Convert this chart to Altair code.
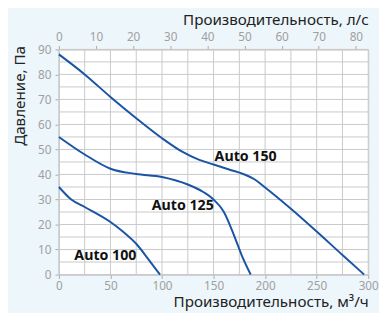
import altair as alt
import pandas as pd

# Data
q150 = [0, 25, 50, 75, 100, 120, 135, 150, 165, 180, 190, 200, 225, 250, 275, 296]
p150 = [88, 80, 71, 62.5, 54.5, 49, 46, 44, 42, 40, 38, 34.8, 26.3, 17.2, 7.8, 0]
q125 = [0, 25, 50, 75, 100, 125, 140, 150, 160, 170, 177, 186]
p125 = [55, 48, 42.3, 40.2, 39, 36, 33, 30, 25, 15.5, 8, 0]
q100 = [0, 12, 25, 50, 62, 75, 87, 98]
p100 = [35, 30, 27, 21, 17.2, 12.3, 6, 0]

label_text = ["Auto 150", "Auto 125", "Auto 100"]
label_q = [151, 90, 15]
label_p = [47, 27.5, 7.2]

x_grid = [0, 25, 50, 75, 100, 125, 150, 175, 200, 225, 250, 275, 300]
y_grid = [0, 5, 10, 15, 20, 25, 30, 35, 40, 45, 50, 55, 60, 65, 70, 75, 80, 85, 90]
x_ticks = [0, 50, 100, 150, 200, 250, 300]
y_ticks = [0, 10, 20, 30, 40, 50, 60, 70, 80, 90]
top_ticks = [0, 10, 20, 30, 40, 50, 60, 70, 80]

rows = []
for name, qs, ps in [("Auto 150", q150, p150), ("Auto 125", q125, p125), ("Auto 100", q100, p100)]:
    for i, (q, p) in enumerate(zip(qs, ps)):
        rows.append({"series": name, "q": q, "p": p, "order": i})
df = pd.DataFrame(rows)
labels = pd.DataFrame({"text": label_text, "q": label_q, "p": label_p})
top_df = pd.DataFrame({"ls": top_ticks})
xg_df = pd.DataFrame({"q": x_grid})
yg_df = pd.DataFrame({"p": y_grid})

FONT = "Noto Sans"
GRID = "#c9c9c9"
LABEL = "#a0a0a0"
LINE = "#1a55a5"
TFS = 15.5
LFS = 12

x_scale = alt.Scale(domain=[0, 300], nice=False, zero=True)
y_scale = alt.Scale(domain=[0, 90], nice=False)

x_axis = alt.Axis(
    values=x_ticks, tickColor="#aaaaaa",
    tickSize=4, labelPadding=2, labelFontSize=LFS, labelColor=LABEL, labelFont=FONT,
    domainColor=GRID, grid=False, labelFlush=False,
    title="Производительность, м³/ч", titleFont=FONT, titleFontSize=TFS,
    titleFontWeight="normal", titleColor="#222222",
    titleAnchor="end", titleAlign="right", titleX=316, titleY=33, titleBaseline="alphabetic",
)
y_axis = alt.Axis(
    values=y_ticks, tickColor="#aaaaaa",
    tickSize=4, labelPadding=4, labelFontSize=LFS, labelColor=LABEL, labelFont=FONT,
    domainColor=GRID, grid=False, labelFlush=False,
    title="Давление, Па", titleFont=FONT, titleFontSize=TFS,
    titleFontWeight="normal", titleColor="#222222",
    titleAnchor="end", titleAlign="right", titleX=-40, titleY=-4, titleBaseline="middle",
)

vgrid = alt.Chart(xg_df).mark_rule(color=GRID, strokeWidth=1).encode(
    x=alt.X("q:Q", scale=x_scale, axis=x_axis),
)
hgrid = alt.Chart(yg_df).mark_rule(color=GRID, strokeWidth=1).encode(
    y=alt.Y("p:Q", scale=y_scale, axis=y_axis),
)

lines = alt.Chart(df).mark_line(color=LINE, strokeWidth=2, interpolate="monotone").encode(
    x=alt.X("q:Q", scale=x_scale, axis=x_axis),
    y=alt.Y("p:Q", scale=y_scale, axis=y_axis),
    detail="series:N",
    order="order:Q",
)

text = alt.Chart(labels).mark_text(
    align="left", baseline="middle", font=FONT, fontSize=14.5, fontWeight="bold", color="#111111"
).encode(
    x=alt.X("q:Q", scale=x_scale, axis=x_axis),
    y=alt.Y("p:Q", scale=y_scale, axis=y_axis),
    text="text:N",
)

top = alt.Chart(top_df).mark_point(opacity=0).encode(
    x=alt.X("ls:Q", scale=alt.Scale(domain=[0, 300 / 3.6], nice=False),
            axis=alt.Axis(orient="top", values=top_ticks, grid=False, tickSize=4,
                          tickColor="#aaaaaa", labelPadding=2, labelFontSize=LFS,
                          labelColor=LABEL, labelFont=FONT, domainColor=GRID, labelFlush=False,
                          title="Производительность, л/с", titleFont=FONT, titleFontSize=TFS,
                          titleFontWeight="normal", titleColor="#222222",
                          titleAnchor="end", titleAlign="right", titleX=316, titleY=-25,
                          titleBaseline="alphabetic")),
    y=alt.value(0),
)

main = alt.layer(vgrid, hgrid, lines, text)

chart = (
    alt.layer(main, top)
    .resolve_scale(x="independent")
    .properties(
        width=316, height=230,
        autosize=alt.AutoSizeParams(type="none"),
        padding={"left": 52, "top": 39, "right": 11, "bottom": 36},
        background="#edf6fb",
    )
    .configure_view(stroke=GRID, fill="white")
)

chart.save("out.html", embed_options={"renderer": "svg", "actions": False})
